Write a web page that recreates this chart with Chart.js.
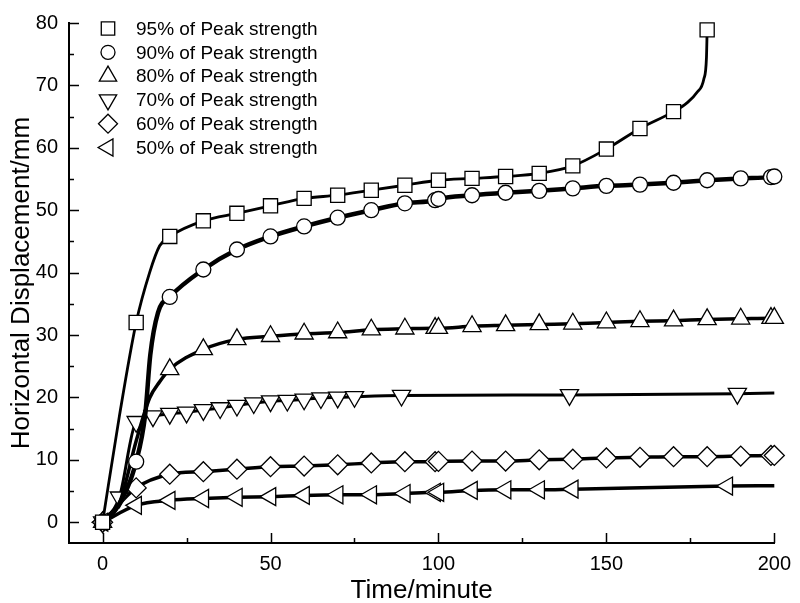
<!DOCTYPE html>
<html>
<head>
<meta charset="utf-8">
<script src="https://cdn.jsdelivr.net/npm/chart.js@4.4.1/dist/chart.umd.min.js"></script>
<style>
  html, body { margin: 0; padding: 0; background: #fff; }
  #wrap { width: 800px; height: 603px; }
</style>
</head>
<body>
<div id="wrap"><canvas id="chart" width="800" height="603"></canvas></div>
<script>
const seriesNames = [
  "95% of Peak strength",
  "90% of Peak strength",
  "80% of Peak strength",
  "70% of Peak strength",
  "60% of Peak strength",
  "50% of Peak strength"
];

// time (minute) / displacement (mm)
const t95 = [0, 5, 10, 14, 17, 20, 30, 40, 50, 60, 70, 80, 90, 100, 110, 120, 130, 140, 150, 160, 170, 174, 177, 179, 179.8, 180];
const d95 = [0, 17, 32, 40, 44.3, 45.8, 48.3, 49.5, 50.7, 51.9, 52.4, 53.2, 54.0, 54.8, 55.1, 55.4, 55.9, 57.1, 59.8, 63.1, 65.8, 67.2, 68.9, 71.0, 74.5, 78.9];
const line95 = [5, 14, 17, 174, 177, 179, 179.8];

const t90 = [0, 5, 10, 12.7, 14.2, 16.5, 20, 30, 40, 50, 60, 70, 80, 90, 99, 100, 110, 120, 130, 140, 150, 160, 170, 180, 190, 199, 200];
const d90 = [0, 3, 9.7, 17.3, 26.8, 33.6, 36.1, 40.5, 43.7, 45.8, 47.4, 48.8, 50.0, 51.1, 51.6, 51.8, 52.4, 52.8, 53.1, 53.5, 53.9, 54.1, 54.4, 54.8, 55.1, 55.3, 55.4];
const line90 = [5, 12.7, 14.2, 16.5];

const t80 = [0, 5, 10, 14, 17, 20, 30, 40, 50, 60, 70, 80, 90, 99, 100, 110, 120, 130, 140, 150, 160, 170, 180, 190, 199, 200];
const d80 = [0, 3, 13, 19.9, 22.5, 24.5, 27.7, 29.3, 29.8, 30.2, 30.4, 30.85, 31.0, 31.1, 31.1, 31.4, 31.55, 31.7, 31.8, 32.0, 32.2, 32.3, 32.5, 32.6, 32.7, 32.7];
const line80 = [5, 10, 14, 17];

const t70 = [0, 5, 10, 15, 20, 25, 30, 35, 40, 45, 50, 55, 60, 65, 70, 75, 89, 139, 189, 200];
const d70 = [0, 4.0, 16.1, 17.0, 17.4, 17.6, 18.0, 18.3, 18.7, 19.1, 19.4, 19.5, 19.7, 19.9, 20.0, 20.1, 20.3, 20.4, 20.6, 20.7];
const line70 = [200];

const t60 = [0, 10, 20, 30, 40, 50, 60, 70, 80, 90, 99, 100, 110, 120, 130, 140, 150, 160, 170, 180, 190, 199, 200];
const d60 = [0, 5.5, 7.7, 8.1, 8.5, 8.9, 9.0, 9.2, 9.5, 9.7, 9.7, 9.75, 9.8, 9.8, 10.0, 10.1, 10.3, 10.4, 10.5, 10.5, 10.6, 10.7, 10.7];
const line60 = [];

const t50 = [0, 10, 20, 30, 40, 50, 60, 70, 80, 90, 99, 100, 110, 120, 130, 140, 186, 200];
const d50 = [0, 2.7, 3.5, 3.8, 4.0, 4.1, 4.3, 4.4, 4.4, 4.6, 4.8, 4.8, 5.1, 5.2, 5.2, 5.3, 5.8, 5.85];
const line50 = [200];

const xTickValues = [0, 25, 50, 75, 100, 125, 150, 175, 200];
const yTickValues = [0, 5, 10, 15, 20, 25, 30, 35, 40, 45, 50, 55, 60, 65, 70, 75, 80];

const FONT = 'Arial, "Liberation Sans", Helvetica, sans-serif';

const markers = [
  { style: "rect", rotation: 0, r: 10, lw: 2.8 },
  { style: "circle", rotation: 0, r: 7.5, lw: 4.5 },
  { style: "triangle", rotation: 0, r: 10.5, lw: 3.5 },
  { style: "triangle", rotation: 180, r: 10.5, lw: 3 },
  { style: "rectRot", rotation: 0, r: 10, lw: 3.5 },
  { style: "triangle", rotation: -90, r: 10.4, lw: 3.5 }
];

function makeSet(i, xs, ys, lineOnly) {
  const m = markers[i];
  return {
    label: seriesNames[i],
    data: xs.map((x, k) => ({ x: x, y: ys[k] })),
    borderColor: "#000",
    borderWidth: m.lw,
    cubicInterpolationMode: "monotone",
    pointStyle: m.style,
    rotation: m.rotation,
    pointRadius: xs.map(x => lineOnly.includes(x) ? 0 : m.r),
    pointBackgroundColor: "#fff",
    pointBorderColor: "#000",
    pointBorderWidth: 1.3,
    clip: false
  };
}

const axisTicks = {
  id: "axisTicks",
  beforeDatasetsDraw(chart) {
    const ctx = chart.ctx;
    const xs = chart.scales.x, ys = chart.scales.y;
    ctx.save();
    ctx.strokeStyle = "#000";
    ctx.lineWidth = 1.5;
    ctx.beginPath();
    xTickValues.forEach(v => {
      const px = Math.round(xs.getPixelForValue(v)) + 0.5;
      const len = v % 50 === 0 ? 10 : 5;
      ctx.moveTo(px, xs.top);
      ctx.lineTo(px, xs.top - len);
    });
    yTickValues.forEach(v => {
      const py = Math.round(ys.getPixelForValue(v)) + 0.5;
      const len = v % 10 === 0 ? 10 : 5;
      ctx.moveTo(ys.right, py);
      ctx.lineTo(ys.right + len, py);
    });
    ctx.stroke();
    ctx.restore();
  }
};

const insideLegend = {
  id: "insideLegend",
  afterDraw(chart) {
    const ctx = chart.ctx;
    ctx.save();
    ctx.font = "19px " + FONT;
    ctx.textBaseline = "middle";
    seriesNames.forEach((name, i) => {
      const y = 28.5 + i * 23.8;
      const m = markers[i];
      if (Chart.helpers && Chart.helpers.drawPoint) {
        ctx.fillStyle = "#fff";
        ctx.strokeStyle = "#000";
        ctx.lineWidth = 1.3;
        Chart.helpers.drawPoint(ctx, { pointStyle: m.style, rotation: m.rotation, radius: m.r - 0.5, borderWidth: 1.3 }, 108, y);
      }
      ctx.fillStyle = "#000";
      ctx.fillText(name, 136, y + 1);
    });
    ctx.restore();
  }
};

new Chart(document.getElementById("chart"), {
  type: "line",
  data: {
    datasets: [
      makeSet(0, t95, d95, line95),
      makeSet(1, t90, d90, line90),
      makeSet(2, t80, d80, line80),
      makeSet(3, t70, d70, line70),
      makeSet(4, t60, d60, line60),
      makeSet(5, t50, d50, line50)
    ]
  },
  options: {
    responsive: false,
    animation: false,
    devicePixelRatio: 1,
    layout: { padding: { top: 18, right: 21, left: 0, bottom: 0 } },
    plugins: { legend: { display: false }, tooltip: { enabled: false } },
    scales: {
      x: {
        type: "linear",
        min: -10,
        max: 200,
        afterBuildTicks: s => { s.ticks = xTickValues.map(v => ({ value: v })); },
        afterFit: s => { s.height = 60; },
        grid: { drawOnChartArea: false, drawTicks: false },
        border: { display: true, color: "#000", width: 2 },
        ticks: {
          color: "#000",
          font: { family: FONT, size: 20 },
          padding: 9,
          maxRotation: 0,
          autoSkip: false,
          callback: v => (v % 50 === 0 ? String(v) : "")
        },
        title: {
          display: true,
          text: "Time/minute",
          color: "#000",
          font: { family: FONT, size: 26 },
          padding: { top: 0, bottom: -3 }
        }
      },
      y: {
        type: "linear",
        min: -3.33,
        max: 80,
        afterBuildTicks: s => { s.ticks = yTickValues.map(v => ({ value: v })); },
        afterFit: s => { s.width = 69; },
        grid: { drawOnChartArea: false, drawTicks: false },
        border: { display: true, color: "#000", width: 2 },
        ticks: {
          color: "#000",
          font: { family: FONT, size: 20 },
          padding: 11,
          autoSkip: false,
          callback: v => (v % 10 === 0 ? String(v) : "")
        },
        title: {
          display: true,
          text: "Horizontal Displacement/mm",
          color: "#000",
          font: { family: FONT, size: 26 },
          padding: { top: 6, bottom: 0 }
        }
      }
    }
  },
  plugins: [axisTicks, insideLegend]
});
</script>
</body>
</html>
